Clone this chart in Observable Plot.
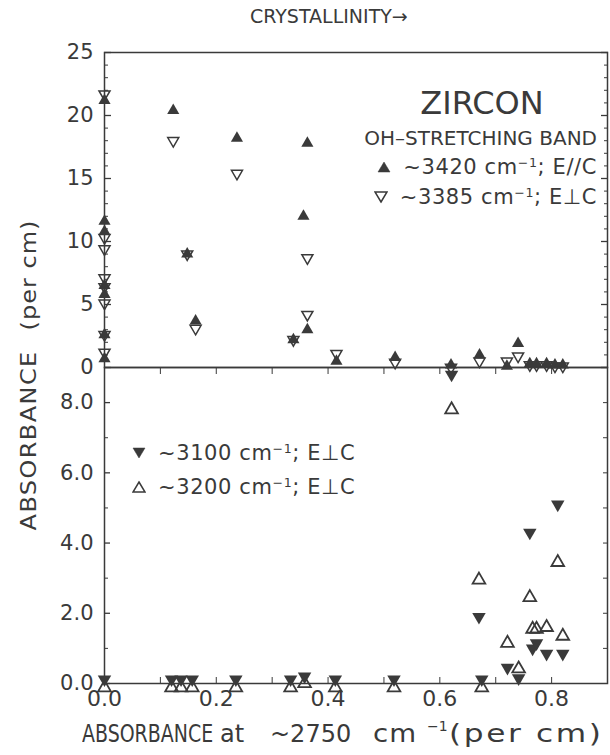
<!DOCTYPE html>
<html><head><meta charset="utf-8">
<script src="https://cdn.jsdelivr.net/npm/d3@7"></script>
<script src="https://cdn.jsdelivr.net/npm/@observablehq/plot@0.6"></script>
<style>
html,body{margin:0;padding:0;background:#fff;}
#wrap{position:relative;width:610px;height:755px;overflow:hidden;font-family:"DejaVu Sans","Liberation Sans",sans-serif;color:#3a3a3a;}
#wrap > svg{position:absolute;left:0;display:block;overflow:visible;}
.t{position:absolute;white-space:nowrap;line-height:1;}
.row{position:absolute;display:flex;align-items:center;white-space:nowrap;line-height:1;transform:translateY(-50%);}
.sup{font-size:0.6em;position:relative;top:-0.55em;}
.w{display:inline-block;transform-origin:left center;}
</style></head><body><div id="wrap"></div><script>
const ink = "#3a3a3a";
const FONT = "'DejaVu Sans','Liberation Sans',sans-serif";

// ---- tick values ----
const xTicks = [0, 0.2, 0.4, 0.6, 0.8];
const xMinorTicks = [0.1, 0.2, 0.3, 0.4, 0.5, 0.6, 0.7, 0.8];
const topYTicks = [0, 5, 10, 15, 20, 25];
const topYMinor = [1,2,3,4,6,7,8,9,11,12,13,14,16,17,18,19,21,22,23,24];
const botYTicks = [0, 2, 4, 6, 8];
const botYMinor = [1, 3, 5, 7];
const botYRight = [1, 2, 3, 4, 5, 6, 7, 8];

// ---- top panel: OH-stretching band absorbance ----
// ~3420 cm-1, E//C (filled up-triangles)
const e3420X = [0, 0, 0, 0, 0, 0, 0, 0.123, 0.148, 0.163, 0.237, 0.363, 0.356, 0.363, 0.338, 0.415, 0.52, 0.62, 0.671, 0.72, 0.74, 0.761, 0.773, 0.791, 0.806, 0.82];
const e3420Y = [21.2, 11.6, 10.8, 6.5, 5.8, 2.6, 0.7, 20.4, 9.0, 3.7, 18.2, 17.8, 12.0, 3.0, 2.2, 0.5, 0.8, 0.2, 1.0, 0.1, 1.9, 0.3, 0.3, 0.3, 0.2, 0.2];
// ~3385 cm-1, E perp C (open down-triangles)
const e3385X = [0, 0, 0, 0, 0, 0, 0, 0, 0.123, 0.148, 0.163, 0.237, 0.363, 0.363, 0.338, 0.415, 0.52, 0.62, 0.671, 0.72, 0.74, 0.761, 0.773, 0.791, 0.806, 0.82];
const e3385Y = [21.7, 10.3, 9.4, 7.1, 6.4, 5.1, 2.6, 1.2, 18.0, 9.0, 3.1, 15.4, 8.7, 4.2, 2.2, 1.1, 0.4, 0.0, 0.5, 0.5, 0.9, 0.2, 0.2, 0.2, 0.1, 0.1];

// ---- bottom panel ----
// ~3100 cm-1, E perp C (filled down-triangles)
const e3100X = [0, 0.12, 0.137, 0.157, 0.235, 0.333, 0.358, 0.413, 0.518, 0.621, 0.670, 0.675, 0.721, 0.741, 0.761, 0.766, 0.773, 0.791, 0.811, 0.82];
const e3100Y = [0.12, 0.12, 0.12, 0.12, 0.12, 0.12, 0.2, 0.12, 0.12, 8.8, 1.9, 0.12, 0.45, 0.15, 4.3, 1.0, 1.15, 0.85, 5.1, 0.85];
// ~3200 cm-1, E perp C (open up-triangles)
const e3200X = [0, 0.12, 0.137, 0.157, 0.235, 0.333, 0.358, 0.413, 0.518, 0.621, 0.670, 0.675, 0.721, 0.741, 0.761, 0.766, 0.773, 0.791, 0.811, 0.82];
const e3200Y = [-0.12, -0.12, -0.12, -0.12, -0.12, -0.12, 0.0, -0.12, -0.12, 7.8, 2.95, -0.12, 1.15, 0.42, 2.45, 1.55, 1.55, 1.6, 3.45, 1.35];

const sqrt3 = Math.sqrt(3);
const triUp = {draw(c, size) { const s = Math.sqrt(size / (sqrt3 * 3)); c.moveTo(0, -2 * s); c.lineTo(sqrt3 * s, s); c.lineTo(-sqrt3 * s, s); c.closePath(); }};
const triDown = {draw(c, size) { const s = Math.sqrt(size / (sqrt3 * 3)); c.moveTo(0, 2 * s); c.lineTo(sqrt3 * s, -s); c.lineTo(-sqrt3 * s, -s); c.closePath(); }};

const blank = () => "";
const style = {fontFamily: FONT, fontSize: "21px", color: ink, background: "transparent", overflow: "visible"};

const topPlot = Plot.plot({
  width: 610, height: 367, marginTop: 52, marginBottom: 0, marginLeft: 104, marginRight: 3,
  x: {domain: [0, 0.9], axis: null},
  y: {domain: [0, 25]},
  style,
  marks: [
    Plot.frame({stroke: ink, strokeWidth: 1.5}),
    Plot.axisY(topYTicks, {tickSize: 0, tickPadding: 11, fontSize: 21, label: null, tickFormat: d => String(d)}),
    Plot.axisY(topYTicks, {tickSize: -7, tickFormat: blank, label: null, stroke: ink, strokeWidth: 1.3}),
    Plot.axisY(topYMinor, {tickSize: -4, tickFormat: blank, label: null, stroke: ink}),
    Plot.axisY(topYTicks, {anchor: "right", tickSize: -7, tickFormat: blank, label: null, stroke: ink, strokeWidth: 1.3}),
    Plot.axisY(topYMinor, {anchor: "right", tickSize: -4, tickFormat: blank, label: null, stroke: ink}),
    Plot.dot(e3385X, {x: e3385X, y: e3385Y, symbol: triDown, r: 4.1, fill: "none", stroke: ink, strokeWidth: 1.5}),
    Plot.dot(e3420X, {x: e3420X, y: e3420Y, symbol: triUp, r: 4.5, fill: ink, stroke: "none"})
  ]
});

const botPlot = Plot.plot({
  width: 610, height: 388, marginTop: 0, marginBottom: 72, marginLeft: 104, marginRight: 3,
  x: {domain: [0, 0.9]},
  y: {domain: [0, 9]},
  style,
  marks: [
    Plot.frame({stroke: ink, strokeWidth: 1.5}),
    Plot.axisY(botYTicks, {tickSize: 0, tickPadding: 11, fontSize: 21, label: null, tickFormat: d3.format(".1f")}),
    Plot.axisY(botYTicks, {tickSize: -6, tickFormat: blank, label: null, stroke: ink, strokeWidth: 1.3}),
    Plot.axisY(botYMinor, {tickSize: -4, tickFormat: blank, label: null, stroke: ink}),
    Plot.axisY(botYRight, {anchor: "right", tickSize: -5, tickFormat: blank, label: null, stroke: ink}),
    Plot.axisX(xTicks, {anchor: "bottom", tickSize: 0, tickPadding: 7, fontSize: 22, label: null, tickFormat: d3.format(".1f")}),
    Plot.axisX(xMinorTicks, {anchor: "bottom", tickSize: -6, tickFormat: blank, label: null, stroke: ink}),
    Plot.axisX(xMinorTicks, {anchor: "top", tickSize: -6, tickFormat: blank, label: null, stroke: ink}),
    Plot.dot(e3200X, {x: e3200X, y: e3200Y, symbol: triUp, r: 4.7, fill: "none", stroke: ink, strokeWidth: 1.8}),
    Plot.dot(e3100X, {x: e3100X, y: e3100Y, symbol: triDown, r: 5.0, fill: ink, stroke: "none"})
  ]
});

const wrap = document.getElementById("wrap");
topPlot.style.top = "0px";
botPlot.style.top = "367px";
wrap.appendChild(topPlot);
wrap.appendChild(botPlot);

function label(html, x, y, {size = 20, anchor = "start", ls = 0, sx = 1, sy = 1, rot = 0} = {}) {
  const d = document.createElement("div");
  d.className = "t";
  d.innerHTML = html;
  d.style.left = x + "px";
  d.style.top = y + "px";
  d.style.fontSize = size + "px";
  d.style.letterSpacing = ls + "px";
  const tx = anchor === "middle" ? "-50%" : anchor === "end" ? "-100%" : "0";
  d.style.transform = `translate(${tx},-50%) rotate(${rot}deg) scale(${sx},${sy})`;
  wrap.appendChild(d);
  return d;
}
function sym(kind) {
  const up = kind === "up-fill" || kind === "up-open";
  const fill = kind.endsWith("fill");
  const p = up ? "M7,1.5 L13,11.5 L1,11.5Z" : "M7,11.5 L13,1.5 L1,1.5Z";
  return `<svg width="14" height="13" style="display:block"><path d="${p}" fill="${fill ? ink : "none"}" stroke="${ink}" stroke-width="${fill ? 0.5 : 1.5}"/></svg>`;
}
function row(kind, html, x, y, anchor) {
  const d = document.createElement("div");
  d.className = "row";
  d.innerHTML = `<span>${sym(kind)}</span><span style="margin-left:12px;font-size:21px;letter-spacing:0.6px">${html}</span>`;
  d.style.top = y + "px";
  if (anchor === "end") d.style.right = (610 - x) + "px"; else d.style.left = x + "px";
  wrap.appendChild(d);
}

// title
label("CRYSTALLINITY→", 250, 16, {size: 19});
// y label
label(`<span style="letter-spacing:1.4px">ABSORBANCE</span><span style="margin-left:20px;letter-spacing:1px">(per cm)</span>`, 29, 375, {size: 24, anchor: "middle", rot: -90, sy: 0.86});
// x label pieces
label(`<span class="w" style="transform:scaleX(0.79)">ABSORBANCE</span>`, 82, 734, {size: 24});
label("at", 220, 734, {size: 24});
label("~2750", 270, 734, {size: 24});
label(`<span class="w" style="transform:scaleX(1.15)">cm</span>`, 373, 734, {size: 24, ls: 1});
label("−1", 427, 726, {size: 14});
label(`<span class="w" style="transform:scaleX(1.3)">(per cm)</span>`, 449, 734, {size: 24, ls: 2});

// panel annotations
label("ZIRCON", 482, 103, {size: 32, anchor: "middle"});
label("OH–STRETCHING BAND", 597, 138, {size: 20, anchor: "end"});
row("up-fill", `~3420 cm<span class="sup">−1</span>; E//C`, 597, 167, "end");
row("down-open", `~3385 cm<span class="sup">−1</span>; E⊥C`, 597, 197, "end");
row("down-fill", `~3100 cm<span class="sup">−1</span>; E⊥C`, 132, 453, "start");
row("up-open", `~3200 cm<span class="sup">−1</span>; E⊥C`, 132, 487, "start");
</script></body></html>
